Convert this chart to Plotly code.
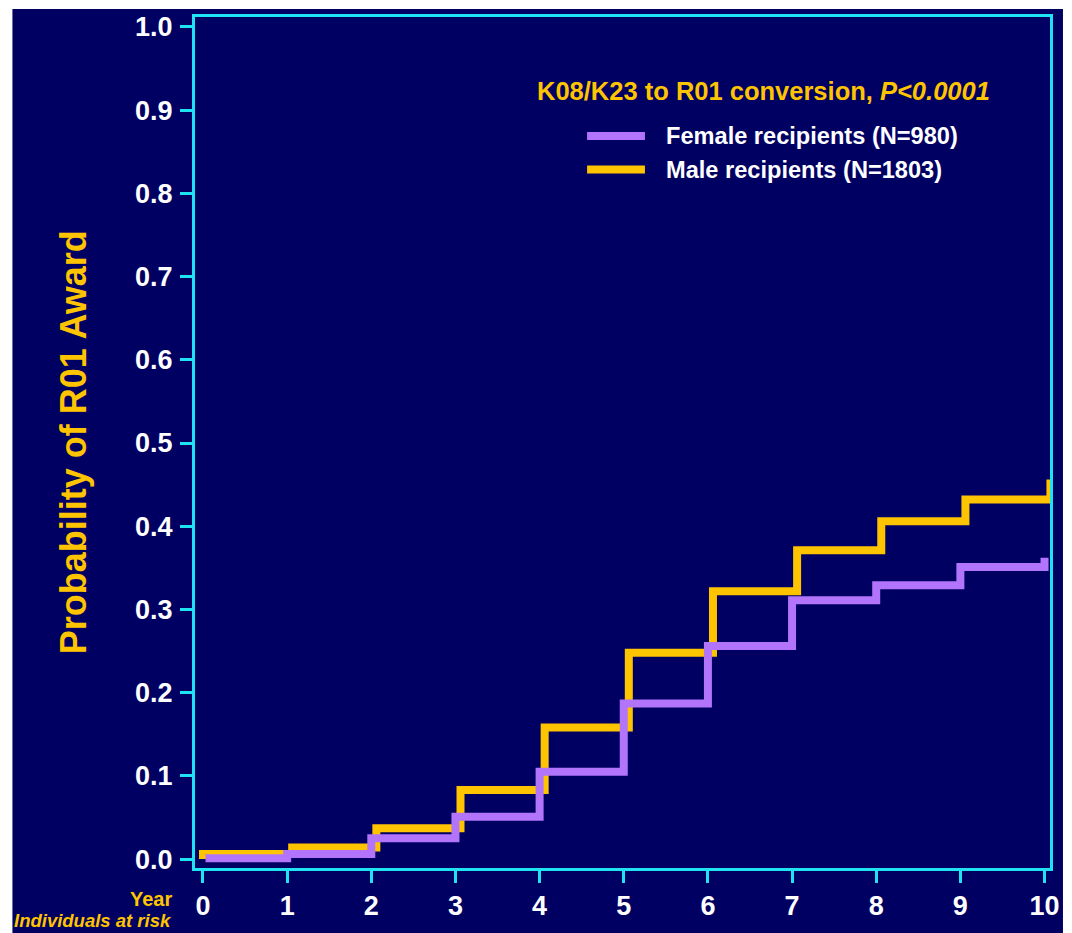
import plotly.graph_objects as go

# ---- data ----
years = [0, 1, 2, 3, 4, 5, 6, 7, 8, 9, 10]
ytick_vals = [0.0, 0.1, 0.2, 0.3, 0.4, 0.5, 0.6, 0.7, 0.8, 0.9, 1.0]
ytick_text = ["0.0", "0.1", "0.2", "0.3", "0.4", "0.5", "0.6", "0.7", "0.8", "0.9", "1.0"]

male_t = [0, 0, 1.06, 2.06, 3.06, 4.06, 5.06, 6.06, 7.06, 8.06, 9.06, 10.07]
male_p = [0, 0.006, 0.014, 0.037, 0.083, 0.158, 0.248, 0.322, 0.371, 0.406, 0.432, 0.456]

female_t = [0.03, 1.0, 2.0, 3.0, 4.0, 5.0, 6.0, 7.0, 8.0, 9.0, 10.0]
female_p = [0.001, 0.006, 0.025, 0.051, 0.105, 0.187, 0.256, 0.311, 0.329, 0.351, 0.362]

female_name = "Female recipients (N=980)"
male_name = "Male recipients (N=1803)"
legend_title = "K08/K23 to R01 conversion, <i>P&lt;0.0001</i>"
y_title = "Probability of R01 Award"

NAVY = "#000062"
GOLD = "#FFC400"
PURPLE = "#B274FA"
CYAN = "#1FE3F2"
W, H = 1072, 933
L, R, T, B = 195, 20, 13, 61
pw, ph = W - L - R, H - T - B

def px(x):
    return (x - L) / pw

def py(y):
    return (H - B - y) / ph

fig = go.Figure()
fig.add_trace(go.Scatter(x=male_t, y=male_p, mode="lines", line_shape="hv",
                         line=dict(color=GOLD, width=8), name=male_name, showlegend=False))
fig.add_trace(go.Scatter(x=female_t, y=female_p, mode="lines", line_shape="hv",
                         line=dict(color=PURPLE, width=8), name=female_name, showlegend=False))

tickfont = dict(family="Liberation Sans, Arial", size=27, color="white", weight="bold")
fig.update_layout(
    width=W, height=H,
    margin=dict(l=L, r=R, t=T, b=B),
    paper_bgcolor=NAVY, plot_bgcolor=NAVY,
    xaxis=dict(range=[-0.095, 10.065], tickvals=years, ticktext=[str(y) for y in years],
               showgrid=False, zeroline=False, showline=True, mirror=True,
               linecolor=CYAN, linewidth=3, ticks="outside", ticklen=12, tickwidth=3,
               tickcolor=CYAN, tickfont=tickfont),
    yaxis=dict(range=[-0.0107, 1.0119], tickvals=ytick_vals, ticktext=ytick_text,
               showgrid=False, zeroline=False, showline=True, mirror=True,
               linecolor=CYAN, linewidth=3, ticks="outside", ticklen=12, tickwidth=3,
               tickcolor=CYAN, tickfont=tickfont, ticklabelstandoff=2),
    showlegend=False,
)

shapes = [
    dict(type="line", xref="paper", yref="paper", x0=px(588), x1=px(646), y0=py(133), y1=py(133),
         line=dict(color=PURPLE, width=8)),
    dict(type="line", xref="paper", yref="paper", x0=px(588), x1=px(646), y0=py(167), y1=py(167),
         line=dict(color=GOLD, width=8)),
    dict(type="rect", xref="paper", yref="paper", x0=px(-5), x1=px(12), y0=py(940), y1=py(-5),
         fillcolor="white", line=dict(width=0)),
    dict(type="rect", xref="paper", yref="paper", x0=px(-5), x1=px(1080), y0=py(5), y1=py(-5),
         fillcolor="white", line=dict(width=0)),
    dict(type="rect", xref="paper", yref="paper", x0=px(1065), x1=px(1080), y0=py(940), y1=py(-5),
         fillcolor="white", line=dict(width=0)),
]
fig.update_layout(shapes=shapes)

bold = dict(family="Liberation Sans, Arial", size=23.6, color="white", weight="bold")
annotations = [
    dict(text=y_title, xref="paper", yref="paper", x=px(73), y=py(442), textangle=-90,
         xanchor="center", yanchor="middle", showarrow=False,
         font=dict(family="Liberation Sans, Arial", size=36, color=GOLD, weight="bold")),
    dict(text=legend_title, xref="paper", yref="paper", x=px(765), y=py(88),
         xanchor="center", yanchor="middle", showarrow=False,
         font=dict(family="Liberation Sans, Arial", size=25.5, color=GOLD, weight="bold")),
    dict(text=female_name, xref="paper", yref="paper", x=px(665), y=py(133),
         xanchor="left", yanchor="middle", showarrow=False, font=bold),
    dict(text=male_name, xref="paper", yref="paper", x=px(665), y=py(167),
         xanchor="left", yanchor="middle", showarrow=False, font=bold),
    dict(text="Year", xref="paper", yref="paper", x=px(174), y=py(903),
         xanchor="right", yanchor="middle", showarrow=False,
         font=dict(family="Liberation Sans, Arial", size=20, color=GOLD, weight="bold")),
    dict(text="<i>Individuals at risk</i>", xref="paper", yref="paper", x=px(174), y=py(912),
         xanchor="right", yanchor="top", showarrow=False,
         font=dict(family="Liberation Sans, Arial", size=18.5, color=GOLD, weight="bold")),
]
fig.update_layout(annotations=annotations)

fig.write_html("out.html")
